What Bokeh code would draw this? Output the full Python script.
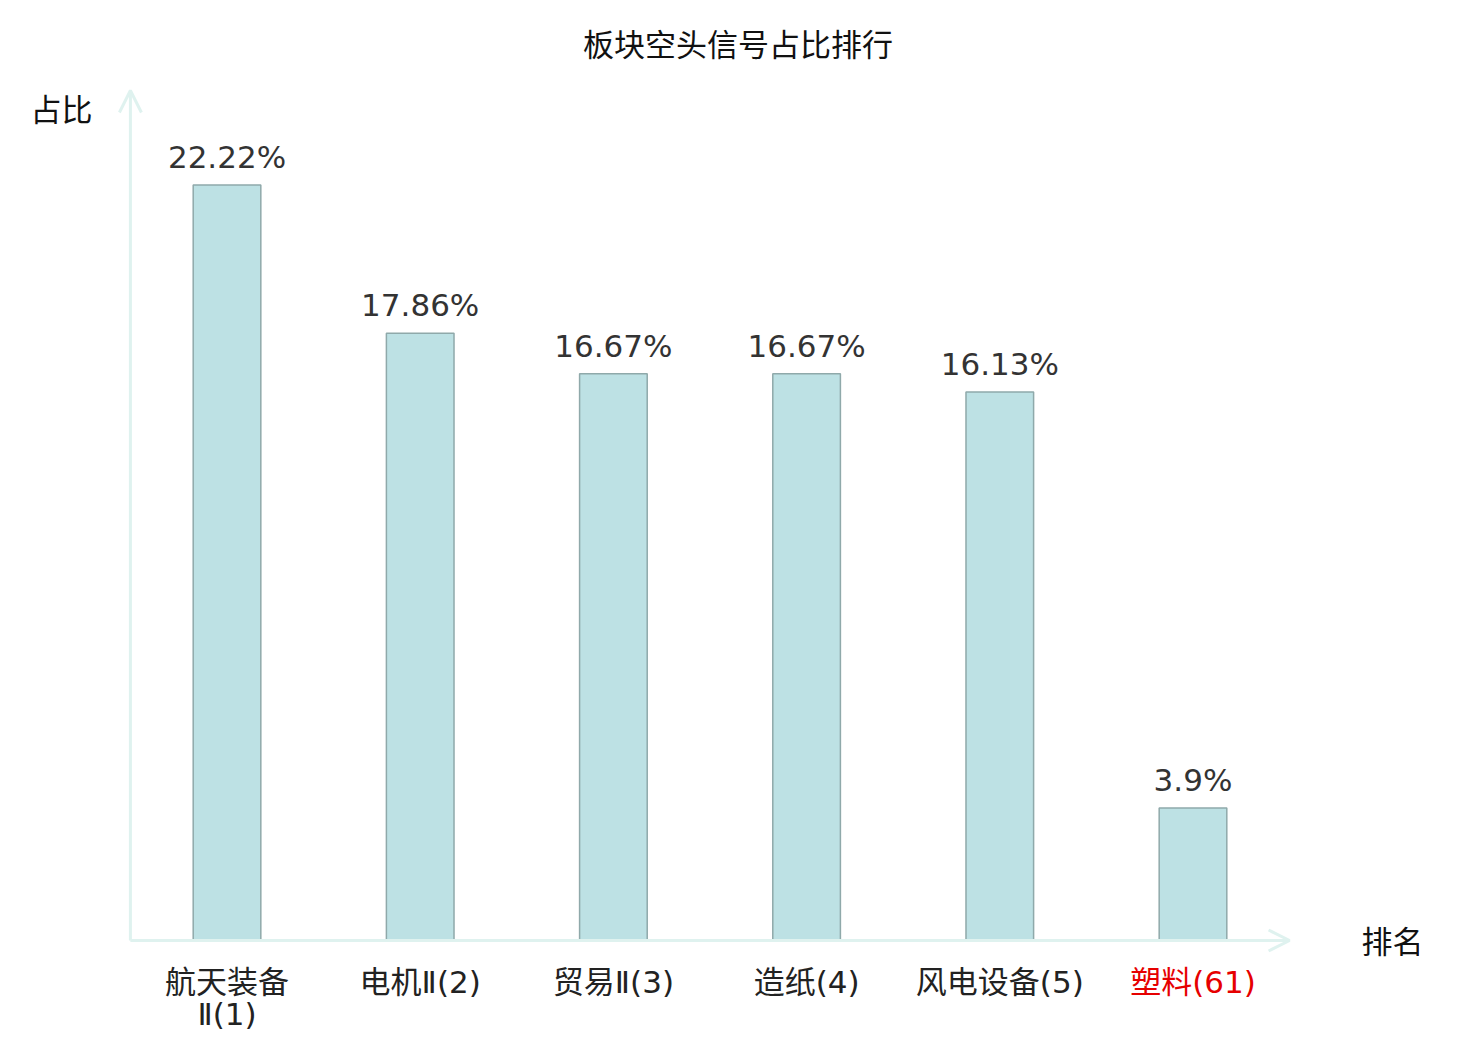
from bokeh.plotting import figure
from bokeh.models import (FactorRange, Range1d, Arrow, OpenHead, ColumnDataSource)
from bokeh.core.properties import value
from bokeh.embed import file_html
from bokeh.resources import INLINE

# ---- data ----
categories = ["航天装备Ⅱ(1)", "电机Ⅱ(2)", "贸易Ⅱ(3)", "造纸(4)", "风电设备(5)", "塑料(61)"]
tick_labels = ["航天装备\nⅡ(1)", "电机Ⅱ(2)", "贸易Ⅱ(3)", "造纸(4)", "风电设备(5)", "塑料(61)"]
tick_colors = ["#222222", "#222222", "#222222", "#222222", "#222222", "#e60000"]
shares = [22.22, 17.86, 16.67, 16.67, 16.13, 3.9]
share_labels = [f"{v}%" for v in shares]
title_text = "板块空头信号占比排行"
y_title = "占比"
x_title = "排名"
y_max = 25

NUM_FONT = "DejaVu Sans, Noto Sans CJK SC"
TICK_FONT = "DejaVu Sans ExtraLight, DejaVu Sans, Noto Sans CJK SC"
CJK_FONT = "Noto Sans CJK SC"
AXIS_COLOR = "#dff2ef"
FS = "31px"

W, H = 1464, 1032
PX_PER_UNIT_Y = 34.0
PX_PER_CAT = 193.33
PAD_PX = 130

p = figure(width=W, height=H,
           x_range=FactorRange(factors=categories, range_padding=PAD_PX / PX_PER_CAT,
                               range_padding_units="absolute"),
           y_range=Range1d(-(H - 940) / PX_PER_UNIT_Y, 940 / PX_PER_UNIT_Y),
           x_axis_location=None, y_axis_location=None,
           min_border_left=0, min_border_top=0, min_border_bottom=0,
           min_border_right=W - int(PX_PER_CAT * len(categories) + 2 * PAD_PX),
           output_backend="svg", toolbar_location=None)
p.xgrid.visible = False
p.ygrid.visible = False
p.outline_line_color = None
p.background_fill_color = "white"
p.border_fill_color = "white"

src = ColumnDataSource(dict(x=categories, top=shares, lab=share_labels,
                            tl=tick_labels, tc=tick_colors, zero=[0] * len(shares)))

p.vbar(x="x", top="top", width=0.35, source=src,
       fill_color="#bde1e4", line_color="#8fa9aa", line_width=1.5)

# value labels
p.text(x="x", y="top", text="lab", source=src, text_align="center",
       text_baseline="middle", y_offset=-28, text_font=value(NUM_FONT),
       text_font_size=FS, text_color="#333333")

# axes with arrows
p.add_layout(Arrow(x_start=0, y_start=0, x_end=0, y_end=y_max, line_color=AXIS_COLOR,
                   line_width=3, end=OpenHead(size=22, line_color=AXIS_COLOR, line_width=3)))
p.add_layout(Arrow(x_start=0, y_start=0, x_end=len(categories), y_end=0, line_color=AXIS_COLOR,
                   line_width=3, end=OpenHead(size=21, line_color=AXIS_COLOR, line_width=3)))

# category labels
p.text(x="x", y="zero", text="tl", source=src, text_align="center",
       text_baseline="top", y_offset=23, text_color="tc",
       text_font=value(TICK_FONT), text_font_size=FS, text_line_height=0.9)

# axis names and title
p.text(x=[0], y=[y_max], text=[y_title], text_align="right", text_baseline="middle",
       x_offset=-38, y_offset=17, text_font=value(CJK_FONT),
       text_font_size=FS, text_color="#111111")
p.text(x=[len(categories)], y=[0], text=[x_title], text_align="left", text_baseline="middle",
       x_offset=72, y_offset=-1, text_font=value(CJK_FONT),
       text_font_size=FS, text_color="#111111")
p.text(x=[len(categories) / 2], y=[y_max], text=[title_text], text_align="center",
       text_baseline="middle", x_offset=28, y_offset=-48, text_font=value(CJK_FONT),
       text_font_size=FS, text_color="#111111")

open("out.html", "w").write(file_html(p, INLINE))
